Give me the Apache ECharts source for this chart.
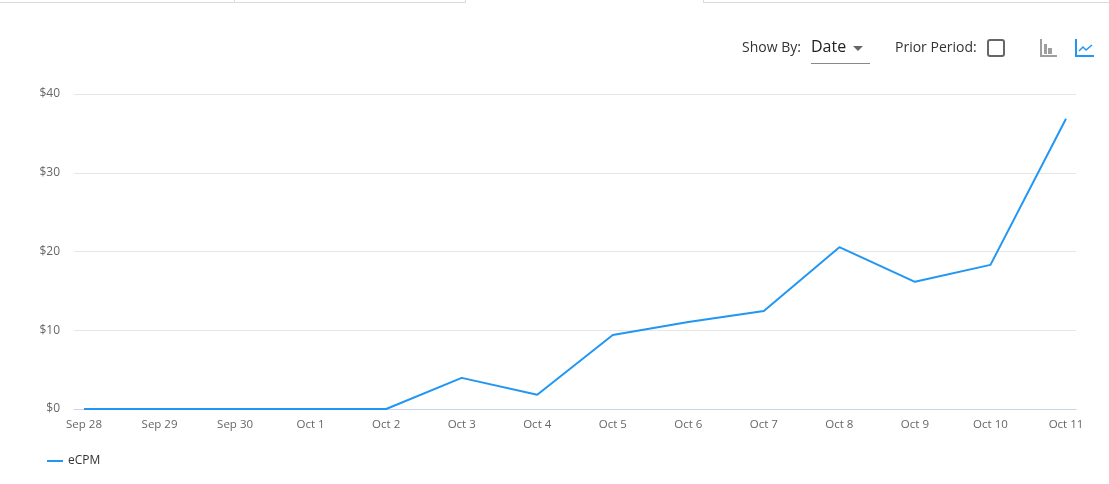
<!DOCTYPE html>
<html>
<head>
<meta charset="utf-8">
<script src="https://cdn.jsdelivr.net/npm/echarts@6/dist/echarts.min.js"></script>
<style>
html,body{margin:0;padding:0;background:#fff;}
#c{width:1109px;height:484px;}
</style>
</head>
<body>
<div id="c"></div>
<script>
var categories = ['Sep 28','Sep 29','Sep 30','Oct 1','Oct 2','Oct 3','Oct 4','Oct 5','Oct 6','Oct 7','Oct 8','Oct 9','Oct 10','Oct 11'];
var ecpmValues = [0, 0, 0, 0, 0, 3.95, 1.8, 9.4, 11.05, 12.45, 20.55, 16.15, 18.3, 36.85];
var yTicks = [0, 10, 20, 30, 40];
var seriesName = 'eCPM';

var FONT = '"Open Sans", "Noto Sans", sans-serif';
var chart = echarts.init(document.getElementById('c'), null, {renderer: 'canvas'});
var lineColor = '#2196f3';

var option = {
  animation: false,
  textStyle: {fontFamily: FONT},
  legend: {
    left: 42, top: 450,
    itemWidth: 16, itemHeight: 2, itemGap: 10,
    icon: 'rect',
    textStyle: {fontSize: 12, color: '#333', fontFamily: FONT},
    data: [{name: seriesName, icon: 'rect'}]
  },
  grid: [
    {left: 74, right: 33, top: 94, bottom: 75},
    {left: 84, right: 43, top: 94, bottom: 75}
  ],
  xAxis: [
    {gridIndex: 0, type: 'category', data: categories, boundaryGap: false, show: true,
     axisLine: {show: true, lineStyle: {color: '#c8d3f0', width: 1}},
     axisTick: {show: false}, axisLabel: {show: false}, splitLine: {show: false}},
    {gridIndex: 1, type: 'category', data: categories, boundaryGap: false,
     axisLine: {show: false}, axisTick: {show: false},
     axisLabel: {show: true, interval: 0, color: '#666', fontSize: 11.5, margin: 10, fontFamily: FONT},
     splitLine: {show: false}}
  ],
  yAxis: [
    {gridIndex: 0, type: 'value', min: yTicks[0], max: yTicks[yTicks.length-1], interval: 10,
     axisLine: {show: false}, axisTick: {show: false},
     axisLabel: {color: '#666', fontSize: 12, margin: 14, fontFamily: FONT,
       formatter: function(v){ return '$' + v; }},
     splitLine: {show: true, lineStyle: {color: '#e6e6e6', width: 1}}},
    {gridIndex: 1, type: 'value', min: yTicks[0], max: yTicks[yTicks.length-1], interval: 10,
     show: false, splitLine: {show: false}}
  ],
  series: [{
    name: seriesName, type: 'line', xAxisIndex: 1, yAxisIndex: 1,
    data: ecpmValues, showSymbol: false, symbol: 'none',
    lineStyle: {color: lineColor, width: 2}, itemStyle: {color: lineColor}
  }],
  graphic: [
    {type: 'line', shape: {x1: 0, y1: 2.5, x2: 465, y2: 2.5}, style: {stroke: '#dcdcdc', lineWidth: 1}},
    {type: 'line', shape: {x1: 234.5, y1: 0, x2: 234.5, y2: 3}, style: {stroke: '#dcdcdc', lineWidth: 1}},
    {type: 'line', shape: {x1: 465.5, y1: 0, x2: 465.5, y2: 3}, style: {stroke: '#dcdcdc', lineWidth: 1}},
    {type: 'line', shape: {x1: 703, y1: 2.5, x2: 1109, y2: 2.5}, style: {stroke: '#dcdcdc', lineWidth: 1}},
    {type: 'line', shape: {x1: 703.5, y1: 0, x2: 703.5, y2: 3}, style: {stroke: '#dcdcdc', lineWidth: 1}},
    {type: 'text', left: 742, top: 41, style: {text: 'Show By:', font: '14px ' + FONT, fill: '#333'}},
    {type: 'text', left: 811, top: 39, style: {text: 'Date', font: '16px ' + FONT, fill: '#222'}},
    {type: 'polygon', shape: {points: [[853,46],[863,46],[858,51]]}, style: {fill: '#666'}},
    {type: 'line', shape: {x1: 811, y1: 63.5, x2: 870, y2: 63.5}, style: {stroke: '#888', lineWidth: 1}},
    {type: 'text', left: 895, top: 41, style: {text: 'Prior Period:', font: '14px ' + FONT, fill: '#333'}},
    {type: 'rect', shape: {x: 988, y: 40, width: 16, height: 16, r: 2}, style: {fill: 'none', stroke: '#666', lineWidth: 2}},
    // bar chart icon
    {type: 'polyline', shape: {points: [[1041,39],[1041,56],[1057,56]]}, style: {stroke: '#9e9e9e', lineWidth: 2, fill: 'none'}},
    {type: 'rect', shape: {x: 1044, y: 44, width: 3, height: 10}, style: {fill: '#9e9e9e'}},
    {type: 'rect', shape: {x: 1048, y: 48, width: 4, height: 6}, style: {fill: '#9e9e9e'}},
    // line chart icon
    {type: 'polyline', shape: {points: [[1076,39],[1076,56],[1094,56]]}, style: {stroke: lineColor, lineWidth: 2, fill: 'none'}},
    {type: 'polyline', shape: {points: [[1079,51],[1083,47],[1086,50],[1092,45]]}, style: {stroke: lineColor, lineWidth: 1.5, fill: 'none'}}
  ]
};
chart.setOption(option);
</script>
</body>
</html>
